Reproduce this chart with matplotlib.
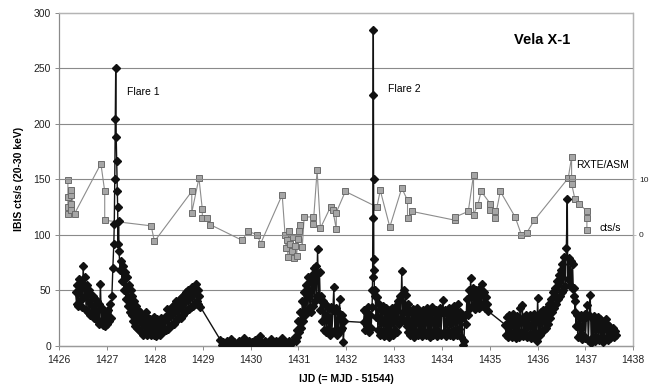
import matplotlib
matplotlib.use("Agg")
import matplotlib.pyplot as plt

plt.rcParams['font.family'] = ['Liberation Sans', 'DejaVu Sans']

# ---------------- data ----------------
# INTEGRAL/IBIS count rate (20-30 keV), cts/s
ibis_t = [
    1426.34, 1426.36, 1426.38, 1426.40, 1426.42, 1426.44, 1426.46, 1426.48, 1426.50, 1426.52,
    1426.54, 1426.56, 1426.58, 1426.60, 1426.62, 1426.64, 1426.66, 1426.68, 1426.70, 1426.72,
    1426.74, 1426.76, 1426.78, 1426.80, 1426.82, 1426.84, 1426.86, 1426.88, 1426.90, 1426.92,
    1426.94, 1426.96, 1426.98, 1427.00, 1427.02, 1427.04, 1427.06, 1427.08, 1427.10, 1427.12,
    1427.14, 1427.15, 1427.16, 1427.17, 1427.18, 1427.19, 1427.20, 1427.21, 1427.22, 1427.23,
    1427.24,
    1427.25, 1427.27, 1427.29, 1427.31, 1427.33, 1427.35, 1427.37, 1427.39, 1427.41, 1427.43,
    1427.45, 1427.47, 1427.49, 1427.51, 1427.53, 1427.55, 1427.57, 1427.59, 1427.61, 1427.63,
    1427.65, 1427.67, 1427.69, 1427.71, 1427.73, 1427.75, 1427.77, 1427.79, 1427.81, 1427.83,
    1427.85, 1427.87, 1427.89, 1427.91, 1427.93, 1427.95, 1427.97, 1427.99, 1428.01, 1428.03,
    1428.05, 1428.07, 1428.09, 1428.11, 1428.13, 1428.15, 1428.17, 1428.19, 1428.21, 1428.23,
    1428.25, 1428.27, 1428.29, 1428.31, 1428.33, 1428.35, 1428.37, 1428.39, 1428.41, 1428.43,
    1428.45, 1428.47, 1428.49, 1428.51, 1428.53, 1428.55, 1428.57, 1428.59, 1428.61, 1428.63,
    1428.65, 1428.67, 1428.69, 1428.71, 1428.73, 1428.75, 1428.77, 1428.79, 1428.81, 1428.83,
    1428.85, 1428.87, 1428.89, 1428.91, 1428.93, 1428.95,
    1429.37, 1429.40, 1429.43, 1429.46, 1429.50, 1429.53, 1429.56, 1429.60, 1429.63, 1429.66,
    1429.70, 1429.73, 1429.76, 1429.80, 1429.83, 1429.86, 1429.90, 1429.93, 1429.96, 1430.00,
    1430.03, 1430.06, 1430.10, 1430.13, 1430.16, 1430.20, 1430.23, 1430.26, 1430.30, 1430.33,
    1430.36, 1430.40, 1430.43, 1430.46, 1430.50, 1430.53, 1430.56, 1430.60, 1430.63, 1430.66,
    1430.70, 1430.73, 1430.76, 1430.80, 1430.83, 1430.86, 1430.90,
    1430.92, 1430.94, 1430.96, 1430.98, 1431.00, 1431.02, 1431.04, 1431.06, 1431.08, 1431.10,
    1431.12, 1431.14, 1431.16, 1431.18, 1431.20, 1431.22, 1431.24, 1431.26, 1431.28, 1431.30,
    1431.32, 1431.34, 1431.36, 1431.38, 1431.40, 1431.42, 1431.44, 1431.46,
    1431.48, 1431.50, 1431.52, 1431.54, 1431.56, 1431.58, 1431.60, 1431.62, 1431.64, 1431.66,
    1431.68, 1431.70, 1431.72, 1431.74, 1431.76, 1431.78, 1431.80, 1431.82, 1431.84, 1431.86,
    1431.88, 1431.90, 1431.92, 1431.94, 1431.96,
    1432.36, 1432.38, 1432.40, 1432.42, 1432.44, 1432.46, 1432.48, 1432.50, 1432.52, 1432.54,
    1432.545, 1432.55, 1432.555, 1432.56, 1432.565, 1432.57, 1432.575, 1432.58, 1432.59,
    1432.60, 1432.62, 1432.64, 1432.66, 1432.68, 1432.70, 1432.72, 1432.74, 1432.76, 1432.78,
    1432.80, 1432.82, 1432.84, 1432.86, 1432.88, 1432.90, 1432.92, 1432.94, 1432.96, 1432.98,
    1433.00, 1433.02, 1433.04, 1433.06, 1433.08, 1433.10, 1433.12, 1433.14, 1433.16, 1433.18,
    1433.20, 1433.22, 1433.24, 1433.26, 1433.28, 1433.30,
    1433.32, 1433.34, 1433.36, 1433.38, 1433.40, 1433.42, 1433.44, 1433.46, 1433.48, 1433.50,
    1433.52, 1433.54, 1433.56, 1433.58, 1433.60, 1433.62, 1433.64, 1433.66, 1433.68, 1433.70,
    1433.72, 1433.74, 1433.76, 1433.78, 1433.80, 1433.82, 1433.84, 1433.86, 1433.88, 1433.90,
    1433.92, 1433.94, 1433.96, 1433.98, 1434.00, 1434.02, 1434.04, 1434.06, 1434.08, 1434.10,
    1434.12, 1434.14, 1434.16, 1434.18, 1434.20, 1434.22, 1434.24, 1434.26, 1434.28, 1434.30,
    1434.32, 1434.34, 1434.36, 1434.38, 1434.40, 1434.42, 1434.44, 1434.46, 1434.48,
    1434.50, 1434.52, 1434.54, 1434.56, 1434.58, 1434.60, 1434.62, 1434.64, 1434.66, 1434.68,
    1434.70, 1434.72, 1434.74, 1434.76, 1434.78, 1434.80, 1434.82, 1434.84, 1434.86, 1434.88,
    1434.90, 1434.92, 1434.94, 1434.97,
    1435.32, 1435.34, 1435.36, 1435.38, 1435.40, 1435.42, 1435.44, 1435.46, 1435.48, 1435.50,
    1435.52, 1435.54, 1435.56, 1435.58, 1435.60, 1435.62, 1435.63, 1435.66, 1435.68, 1435.70,
    1435.72, 1435.74, 1435.76, 1435.78, 1435.80, 1435.82, 1435.84, 1435.86, 1435.88, 1435.90,
    1435.92, 1435.94, 1435.96, 1435.98, 1436.00, 1436.02, 1436.04, 1436.06, 1436.08, 1436.10,
    1436.12, 1436.14, 1436.16, 1436.18,
    1436.20, 1436.22, 1436.24, 1436.26, 1436.28, 1436.30, 1436.32, 1436.34, 1436.36, 1436.38,
    1436.40, 1436.42, 1436.44, 1436.46, 1436.48, 1436.50, 1436.52, 1436.54, 1436.56, 1436.58,
    1436.60, 1436.62, 1436.63, 1436.65, 1436.67, 1436.69, 1436.71, 1436.73, 1436.75,
    1436.77, 1436.78, 1436.79, 1436.80, 1436.82, 1436.84,
    1436.86, 1436.88, 1436.90, 1436.92, 1436.94, 1436.96, 1436.98, 1437.00, 1437.02, 1437.04,
    1437.06, 1437.08, 1437.10, 1437.12, 1437.14, 1437.16, 1437.18, 1437.20, 1437.22, 1437.24,
    1437.26, 1437.28, 1437.30, 1437.32, 1437.34, 1437.36, 1437.38, 1437.40, 1437.42, 1437.44,
    1437.46, 1437.48, 1437.50, 1437.52, 1437.54, 1437.56, 1437.58, 1437.60, 1437.62, 1437.64,
]
ibis_rate = [
    48, 38, 55, 36, 60, 40, 58, 35, 72, 44,
    62, 32, 55, 30, 50, 28, 46, 30, 45, 25,
    42, 24, 40, 22, 38, 20, 56, 22, 34, 19,
    30, 18, 28, 20, 32, 22, 38, 25, 45, 70,
    92, 110, 150, 204, 250, 188, 166, 139, 125, 92,
    112,
    85, 68, 76, 58, 72, 50, 66, 42, 62, 36,
    55, 30, 50, 28, 45, 22, 40, 18, 36, 16,
    32, 14, 30, 12, 28, 10, 26, 12, 30, 10,
    25, 11, 24, 10, 22, 12, 26, 10, 22, 9,
    24, 12, 22, 10, 25, 12, 24, 13, 26, 14,
    33, 15, 28, 18, 34, 19, 36, 20, 38, 22,
    40, 24, 38, 26, 42, 25, 44, 28, 46, 30,
    48, 32, 50, 33, 47, 35, 53, 36, 52, 38,
    56, 40, 50, 38, 45, 35,
    5, 1, 3, 0.5, 4, 1, 2, 6, 1, 3,
    0.5, 2, 4, 1, 3, 7, 1, 2, 4, 1,
    3, 2, 5, 1, 3, 9, 2, 1, 4, 2,
    1, 3, 6, 1, 2, 4, 1, 3, 2, 7,
    1, 3, 2, 4, 1, 3, 5,
    8, 4, 14, 8, 22, 12, 30, 16, 40, 22,
    48, 28, 55, 30, 62, 34, 58, 30, 64, 36,
    70, 40, 72, 45, 87, 42, 66, 32,
    45, 22, 40, 14, 38, 12, 36, 15, 34, 10,
    35, 12, 32, 53, 14, 34, 10, 30, 12, 42,
    14, 28, 16, 3.6, 22,
    21, 32, 14, 30, 18, 35, 12, 28, 16, 35,
    50, 62, 115, 226, 284, 150, 78, 68, 45,
    50, 26, 44, 14, 38, 10, 32, 12, 36, 9,
    30, 14, 34, 10, 32, 8, 28, 12, 34, 10,
    30, 14, 36, 12, 40, 20, 45, 25, 67, 30,
    50, 22, 46, 18, 38, 12,
    32, 10, 30, 14, 33, 8, 28, 12, 34, 10,
    30, 14, 28, 9, 32, 12, 30, 10, 34, 13,
    29, 8, 31, 12, 35, 10, 30, 14, 32, 9,
    28, 12, 34, 10, 30, 41, 12, 32, 9, 29,
    13, 34, 10, 30, 12, 33, 9, 36, 14, 32,
    10, 38, 15, 30, 8, 25, 1, 4, 28,
    20, 42, 28, 50, 34, 61, 36, 52, 35, 48,
    33, 50, 36, 46, 34, 52, 38, 56, 36, 48,
    34, 44, 38, 31,
    19, 10, 26, 8, 28, 12, 24, 8, 29, 11,
    25, 7, 27, 10, 24, 8, 34, 12, 37, 9,
    26, 11, 28, 8, 25, 10, 28, 7, 26, 11,
    29, 9, 27, 4, 43, 12, 28, 10, 30, 13,
    32, 14, 30, 16,
    34, 20, 38, 25, 42, 30, 48, 34, 52, 38,
    58, 42, 64, 45, 68, 48, 74, 50, 80, 54,
    88, 132, 60, 79, 55, 76, 52, 74, 45,
    52, 30, 40, 18, 28, 8,
    26, 10, 28, 6, 24, 9, 29, 7, 26, 37,
    5, 28, 46, 2, 25, 8, 27, 4, 22, 7,
    26, 5, 24, 8, 20, 3, 22, 6, 24, 8,
    20, 5, 18, 7, 15, 9, 16, 8, 13, 10,
]

# RXTE/ASM count rate, cts/s (right axis)
asm_t = [
    1426.18, 1426.18, 1426.18, 1426.18, 1426.25, 1426.25, 1426.25, 1426.25, 1426.32,
    1426.87, 1426.95, 1426.95, 1427.92, 1427.99, 1428.77, 1428.77, 1428.92, 1428.99, 1428.99,
    1429.09, 1429.16, 1429.82, 1429.95, 1430.14, 1430.21, 1430.66,
    1430.72, 1430.74, 1430.76, 1430.78, 1430.80, 1430.83, 1430.86, 1430.88, 1430.90, 1430.93,
    1430.96, 1430.99, 1431.02, 1431.04, 1431.08, 1431.12, 1431.31, 1431.31, 1431.39, 1431.46,
    1431.67, 1431.72, 1431.79, 1431.79, 1431.98, 1432.64, 1432.71, 1432.91, 1433.16,
    1433.28, 1433.28, 1433.37, 1434.28, 1434.28, 1434.55, 1434.66, 1434.66, 1434.75, 1434.82,
    1435.01, 1435.01, 1435.11, 1435.11, 1435.22, 1435.53, 1435.66, 1435.77, 1435.93,
    1436.64, 1436.71, 1436.71, 1436.71, 1436.78, 1436.87, 1437.03, 1437.03, 1437.03,
]
asm_rate = [
    9.8, 6.8, 5.0, 3.8, 4.4, 5.6, 7.2, 8.0, 3.8,
    12.8, 7.8, 2.6, 1.6, -1.2, 7.8, 4.0, 10.2, 4.6, 3.0,
    3.0, 1.8, -1.0, 0.6, 0.0, -1.6, 7.2,
    0.0, -2.4, -1.0, -4.0, 0.6, -1.6, -3.0, -0.4, -4.2, -2.0,
    -3.8, -0.8, 0.6, 1.8, -2.2, 3.2, 3.2, 2.0, 11.6, 1.2,
    5.0, 4.4, 1.0, 4.0, 7.8, 5.0, 8.0, 1.4, 8.4,
    6.2, 3.0, 4.2, 2.6, 3.2, 4.2, 10.8, 3.6, 5.4, 7.8,
    5.6, 4.4, 4.2, 3.0, 7.8, 3.2, 0.0, 0.3, 2.6,
    10.2, 14.0, 10.2, 9.2, 6.4, 5.6, 4.2, 3.0, 0.8,
]

x_ticks = list(range(1426, 1439))
y_ticks = [0, 50, 100, 150, 200, 250, 300]
asm_ticks = [0, 10]

# ---------------- figure ----------------
fig = plt.figure(figsize=(6.5, 3.89), dpi=100)
ax = fig.add_axes([0.0912, 0.1113, 0.8831, 0.8560])
ax2 = ax.twinx()

ax.set_xlim(1426, 1438)
ax.set_ylim(0, 300)
ax2.set_ylim(-20, 40)

# ASM series (behind)
ax2.plot(asm_t, asm_rate, color='#8c8c8c', lw=0.8, marker='s', markersize=4.0,
         markerfacecolor='#a6a6a6', markeredgecolor='#6c6c6c', markeredgewidth=0.7,
         zorder=2)

# IBIS series (front)
ax.set_zorder(ax2.get_zorder() + 1)
ax.patch.set_visible(False)
ax.plot(ibis_t, ibis_rate, color='#111111', lw=1.0, marker='D', markersize=3.6,
        markerfacecolor='#111111', markeredgecolor='#111111', zorder=3)

# grid
ax.set_yticks(y_ticks)
ax.set_xticks(x_ticks)
ax.yaxis.grid(True, color='#8a8a8a', lw=0.8, zorder=0)
gl = ax.get_ygridlines()
gl[0].set_visible(False)
gl[-1].set_visible(False)

# spines
for a in (ax, ax2):
    a.spines['top'].set_color('#b4b4b4')
    a.spines['top'].set_linestyle((0, (1, 1)))
    a.spines['top'].set_linewidth(0.9)
    a.spines['right'].set_color('#b4b4b4')
    a.spines['right'].set_linestyle((0, (1, 1)))
    a.spines['right'].set_linewidth(0.9)
    a.spines['left'].set_color('#8a8a8a')
    a.spines['left'].set_linewidth(0.8)
    a.spines['bottom'].set_color('#9a9a9a')
    a.spines['bottom'].set_linewidth(0.9)

ax.tick_params(axis='both', direction='out', length=3, width=0.7, color='#8a8a8a',
               labelsize=7.5, labelcolor='#222222')
ax.tick_params(axis='x', pad=4)
ax.tick_params(axis='y', pad=3)

ax2.set_yticks(asm_ticks)
ax2.tick_params(axis='y', direction='out', length=2.5, width=0.6, color='#b4b4b4',
                labelsize=6, labelcolor='#222222', pad=1.5)

ax.set_xlabel('IJD (= MJD - 51544)', fontsize=7.5, fontweight='bold', labelpad=6)
ax.set_ylabel('IBIS cts/s (20-30 keV)', fontsize=7.5, fontweight='bold', labelpad=7)

# annotations
ax.text(1436.09, 275, 'Vela X-1', fontsize=10.5, fontweight='bold', ha='center', va='center')
ax.text(1427.42, 229, 'Flare 1', fontsize=7.5, ha='left', va='center')
ax.text(1432.87, 231, 'Flare 2', fontsize=7.5, ha='left', va='center')
ax.text(1436.80, 163, 'RXTE/ASM', fontsize=7.5, ha='left', va='center')
ax.text(1437.30, 106, 'cts/s', fontsize=7.5, ha='left', va='center')

fig.savefig('out.png', dpi=100)
